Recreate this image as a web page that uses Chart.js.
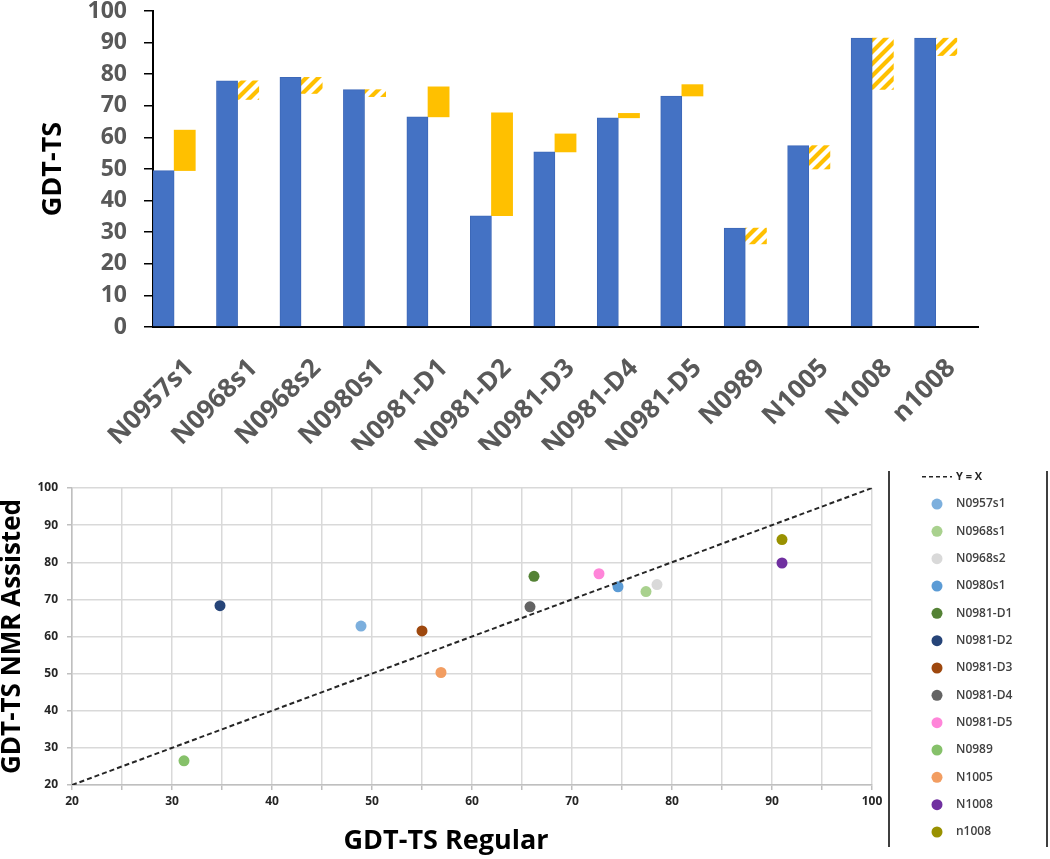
<!DOCTYPE html>
<html>
<head>
<meta charset="utf-8">
<script src="https://cdn.jsdelivr.net/npm/chart.js@4.4.1/dist/chart.umd.min.js"></script>
<style>
  html, body { margin: 0; padding: 0; background: #ffffff; }
  #wrap { position: relative; width: 1050px; height: 859px; overflow: hidden; }
  #bar { position: absolute; left: 0; top: 0; }
  #sc { position: absolute; left: 0; top: 450px; }
</style>
</head>
<body>
<div id="wrap">
  <canvas id="bar" width="1050" height="450"></canvas>
  <canvas id="sc" width="1050" height="409"></canvas>
</div>
<script>
// ---------------- data ----------------
const targets = ['N0957s1','N0968s1','N0968s2','N0980s1','N0981-D1','N0981-D2','N0981-D3','N0981-D4','N0981-D5','N0989','N1005','N1008','n1008'];
// top bar chart
const regularBar = [49.5, 77.9, 79.0, 75.1, 66.5, 35.2, 55.4, 66.2, 73.1, 31.3, 57.4, 91.4, 91.4];
const nmrBar     = [62.3, 72.0, 73.9, 72.9, 76.0, 67.8, 61.1, 67.6, 76.7, 26.3, 50.0, 75.2, 85.9];
// bottom scatter chart
const scatterX = [48.9, 77.4, 78.5, 74.6, 66.2, 34.8, 55.0, 65.8, 72.7, 31.2, 56.9, 91.0, 91.0];
const scatterY = [62.8, 72.1, 74.0, 73.4, 76.2, 68.3, 61.5, 68.0, 76.9, 26.5, 50.3, 79.8, 86.1];
const dotColors = ['#7cafdd','#a9d18e','#d9d9d9','#5b9bd5','#548235','#264478','#9e480e','#636363','#ff85d9','#86c16a','#f29d61','#7030a0','#999100'];
const barTicks = [0,10,20,30,40,50,60,70,80,90,100];
const identityLine = [20, 100];

// ---------------- helpers ----------------
function hatchPattern() {
  const s = 12;
  const c = document.createElement('canvas');
  c.width = s; c.height = s;
  const g = c.getContext('2d');
  g.fillStyle = '#ffffff';
  g.fillRect(0, 0, s, s);
  g.strokeStyle = '#FFC000';
  g.lineWidth = 4.2;
  g.beginPath();
  g.moveTo(-s/2, s/2); g.lineTo(s/2, -s/2);
  g.moveTo(0, s); g.lineTo(s, 0);
  g.moveTo(s/2, s*1.5); g.lineTo(s*1.5, s/2);
  g.stroke();
  return g.createPattern(c, 'repeat');
}
const hatch = hatchPattern();
const FONT = "'Open Sans', 'DejaVu Sans', sans-serif";

// ---------------- top bar chart ----------------
new Chart(document.getElementById('bar'), {
  type: 'bar',
  data: {
    labels: targets,
    datasets: [
      {
        label: 'Regular',
        data: regularBar,
        backgroundColor: '#4472C4',
        borderColor: '#3d68b8',
        borderWidth: 1,
        borderSkipped: 'bottom'
      },
      {
        label: 'NMR Assisted',
        data: regularBar.map((r, i) => [r, nmrBar[i]]),
        backgroundColor: regularBar.map((r, i) => nmrBar[i] >= r ? '#FFC000' : hatch),
        borderWidth: 0
      },
      {
        label: '',
        data: regularBar.map(() => null)
      }
    ]
  },
  options: {
    responsive: false,
    devicePixelRatio: 1,
    animation: false,
    layout: { padding: { left: 0, right: 72, top: 11, bottom: 0 } },
    datasets: { bar: { categoryPercentage: 1.0, barPercentage: 1.0, grouped: true } },
    plugins: { legend: { display: false }, tooltip: { enabled: false } },
    scales: {
      x: {
        offset: true,
        grid: { display: false, drawTicks: false },
        border: { display: true, color: '#000000', width: 2 },
        ticks: {
          autoSkip: false, minRotation: 45, maxRotation: 45,
          padding: 26, labelOffset: 5,
          color: '#595959',
          font: { family: FONT, size: 26, weight: 'bold' }
        },
        afterFit: (s) => { s.height = 123; s.paddingTop = 0; s.paddingBottom = 0; }
      },
      y: {
        min: 0, max: 100,
        afterBuildTicks: (s) => { s.ticks = barTicks.map(v => ({ value: v })); },
        grid: { display: true, drawOnChartArea: false, tickLength: 9, color: '#000000', lineWidth: 1.5 },
        border: { display: true, color: '#000000', width: 2 },
        ticks: {
          padding: 17,
          color: '#595959',
          font: { family: FONT, size: 23, weight: 'bold' }
        },
        title: {
          display: true, text: 'GDT-TS', color: '#000000',
          font: { family: FONT, size: 27, weight: 'bold', lineHeight: 1.2 },
          padding: { top: 37, bottom: 0 }
        },
        afterFit: (s) => { s.width = 153; s.paddingTop = 0; s.paddingBottom = 0; }
      }
    }
  }
});

// ---------------- bottom scatter chart ----------------
const legendPlugin = {
  id: 'sideLegend',
  afterDraw(chart) {
    const ctx = chart.ctx;
    const ca = chart.chartArea;
    const x0 = ca.right + 17;
    const x1 = chart.width - 3;
    ctx.save();
    ctx.strokeStyle = '#000000';
    ctx.lineWidth = 1.5;
    ctx.beginPath();
    ctx.moveTo(x0, 21); ctx.lineTo(x0, 397);
    ctx.moveTo(x1, 21); ctx.lineTo(x1, 397);
    ctx.stroke();
    const ds = chart.data.datasets;
    const markX = x0 + 48;
    const textX = x0 + 67;
    const step = 27.33;
    ctx.textBaseline = 'middle';
    ctx.textAlign = 'left';
    ds.forEach((d, i) => {
      const y = 26.7 + i * step;
      if (d.type === 'line') {
        ctx.strokeStyle = d.borderColor;
        ctx.lineWidth = 1.5;
        ctx.setLineDash([4, 3]);
        ctx.beginPath();
        ctx.moveTo(x0 + 33, y); ctx.lineTo(x0 + 63, y);
        ctx.stroke();
        ctx.setLineDash([]);
        ctx.fillStyle = '#262626';
        ctx.font = 'bold 11px ' + FONT;
        ctx.fillText(d.label, x0 + 67, y);
      } else {
        ctx.fillStyle = d.backgroundColor;
        ctx.beginPath();
        ctx.arc(markX, y, 5.5, 0, Math.PI * 2);
        ctx.fill();
        ctx.fillStyle = '#404040';
        ctx.font = '600 12px ' + FONT;
        ctx.fillText(d.label, textX, y);
      }
    });
    ctx.restore();
  }
};

const scatterSets = targets.map((t, i) => ({
  type: 'scatter',
  label: t,
  data: [{ x: scatterX[i], y: scatterY[i] }],
  backgroundColor: dotColors[i],
  borderColor: dotColors[i],
  pointRadius: 5.5,
  pointBorderWidth: 0
}));

new Chart(document.getElementById('sc'), {
  type: 'scatter',
  data: {
    datasets: [
      {
        type: 'line',
        label: 'Y = X',
        data: identityLine.map(v => ({ x: v, y: v })),
        borderColor: '#262626',
        borderWidth: 2,
        borderDash: [5, 3],
        pointRadius: 0,
        fill: false
      },
      ...scatterSets
    ]
  },
  options: {
    responsive: false,
    devicePixelRatio: 1,
    animation: false,
    layout: { padding: { left: 20, right: 178, top: 38, bottom: 1 } },
    plugins: {
      legend: { display: false },
      tooltip: { enabled: false },
      title: {
        display: true, position: 'bottom', text: 'GDT-TS Regular', color: '#000000',
        font: { family: FONT, size: 27, weight: 'bold', lineHeight: 1.2 },
        padding: { top: 0, bottom: 0 }
      }
    },
    scales: {
      x: {
        type: 'linear', min: 20, max: 100,
        grid: { color: '#d9d9d9', lineWidth: 1.5, tickLength: 5, tickColor: '#bfbfbf' },
        border: { display: true, color: '#bfbfbf', width: 1.5 },
        ticks: {
          stepSize: 5, padding: 4, color: '#262626',
          font: { family: FONT, size: 12, weight: 'bold' },
          callback: (v) => (v % 10 === 0 ? v : '')
        },
        afterFit: (s) => { s.height = 40.6; }
      },
      y: {
        type: 'linear', min: 20, max: 100,
        grid: { color: '#d9d9d9', lineWidth: 1.5, tickLength: 5, tickColor: '#bfbfbf' },
        border: { display: true, color: '#bfbfbf', width: 1.5 },
        ticks: {
          stepSize: 10, padding: 9, color: '#262626',
          font: { family: FONT, size: 12, weight: 'bold' }
        },
        title: {
          display: true, text: 'GDT-TS NMR Assisted', color: '#000000',
          font: { family: FONT, size: 26, weight: 'bold', lineHeight: 1.0 },
          padding: { top: -20, bottom: 0 }
        },
        afterFit: (s) => { s.width = 52; }
      }
    }
  },
  plugins: [legendPlugin]
});
</script>
</body>
</html>
